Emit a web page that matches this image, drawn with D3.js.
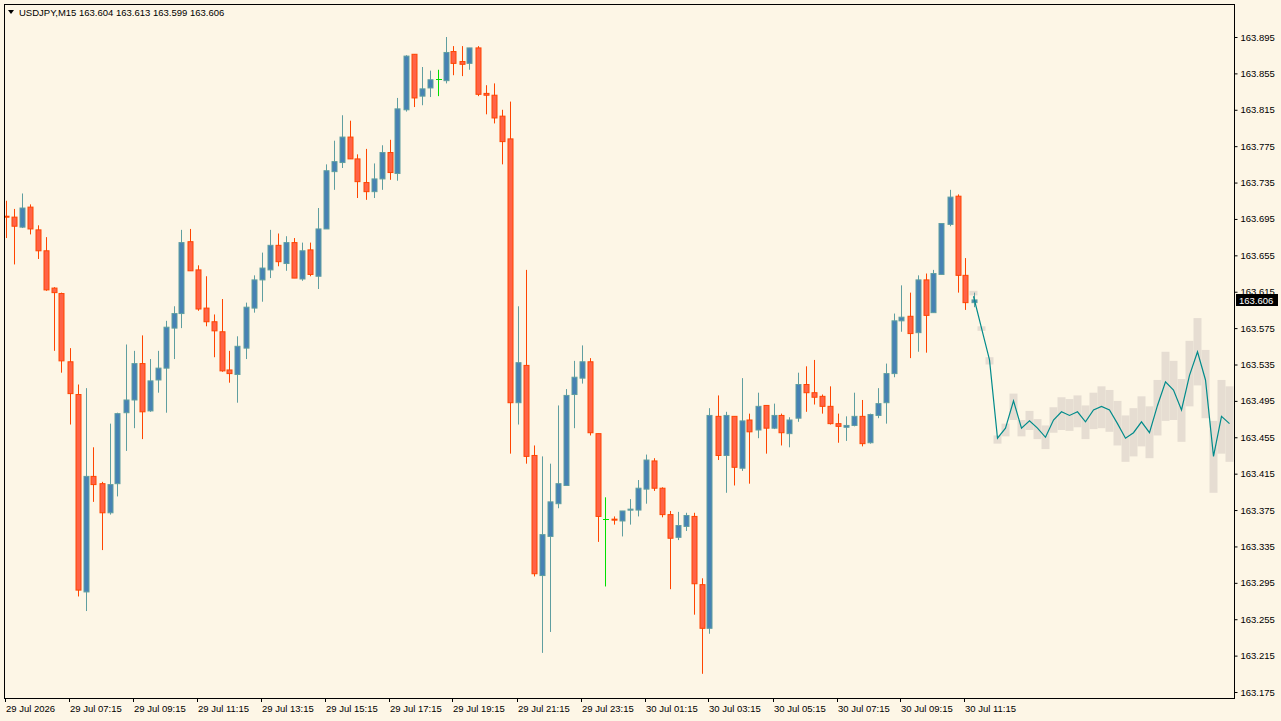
<!DOCTYPE html>
<html>
<head>
<meta charset="utf-8">
<script src="https://cdn.jsdelivr.net/npm/d3@7"></script>
<style>
  body { margin: 0; background: #fdf6e6; }
  text { font-family: "Liberation Sans", Arial, sans-serif; font-size: 10px; fill: #000; }
</style>
</head>
<body>
<svg id="chart" width="1281" height="721"></svg>
<script>
const opens = [163.698,163.697,163.686,163.708,163.683,163.660,163.619,163.613,163.538,163.502,
  163.285,163.412,163.404,163.372,163.404,163.482,163.496,163.536,163.484,163.518,
  163.531,163.575,163.591,163.670,163.639,163.597,163.582,163.571,163.529,163.524,
  163.553,163.597,163.628,163.639,163.666,163.646,163.669,163.629,163.661,163.632,
  163.684,163.747,163.757,163.785,163.761,163.735,163.725,163.739,163.768,163.745,
  163.815,163.876,163.830,163.839,163.849,163.847,163.879,163.868,163.866,163.883,
  163.833,163.831,163.808,163.783,163.493,163.534,163.435,163.303,163.346,163.382,
  163.402,163.502,163.520,163.538,163.459,163.365,163.365,163.363,163.375,163.375,
  163.398,163.429,163.399,163.370,163.345,163.357,163.368,163.293,163.245,163.478,
  163.435,163.478,163.421,163.474,163.463,163.490,163.465,163.479,163.459,163.476,
  163.513,163.504,163.500,163.489,163.470,163.466,163.468,163.478,163.449,163.479,
  163.493,163.525,163.583,163.588,163.570,163.628,163.592,163.634,163.689,163.720,
  163.633,163.603];
const highs = [163.715,163.706,163.723,163.711,163.688,163.675,163.620,163.614,163.553,163.513,
  163.509,163.444,163.406,163.470,163.482,163.557,163.550,163.567,163.541,163.550,
  163.583,163.599,163.683,163.684,163.644,163.632,163.590,163.607,163.550,163.566,
  163.603,163.633,163.658,163.683,163.679,163.676,163.674,163.669,163.669,163.707,
  163.755,163.781,163.809,163.803,163.766,163.772,163.756,163.776,163.782,163.828,
  163.875,163.876,163.862,163.858,163.859,163.895,163.885,163.885,163.883,163.885,
  163.842,163.844,163.815,163.824,163.599,163.639,163.446,163.434,163.426,163.490,
  163.508,163.539,163.556,163.542,163.459,163.389,163.368,163.374,163.387,163.408,
  163.436,163.432,163.400,163.374,163.373,163.372,163.372,163.300,163.487,163.501,
  163.483,163.478,163.520,163.481,163.504,163.490,163.492,163.481,163.477,163.526,
  163.533,163.540,163.502,163.511,163.481,163.478,163.504,163.496,163.481,163.509,
  163.536,163.591,163.622,163.614,163.633,163.635,163.639,163.690,163.727,163.722,
  163.652,163.614];
const lows = [163.674,163.645,163.685,163.678,163.651,163.616,163.550,163.526,163.469,163.280,
  163.264,163.384,163.331,163.370,163.390,163.440,163.465,163.453,163.483,163.504,
  163.482,163.541,163.575,163.638,163.594,163.577,163.543,163.527,163.515,163.493,
  163.541,163.592,163.604,163.630,163.643,163.638,163.630,163.627,163.632,163.618,
  163.684,163.727,163.751,163.761,163.718,163.716,163.718,163.727,163.738,163.737,
  163.813,163.818,163.820,163.829,163.830,163.844,163.853,163.852,163.859,163.830,
  163.810,163.800,163.755,163.437,163.469,163.426,163.302,163.218,163.241,163.377,
  163.402,163.465,163.514,163.457,163.340,163.291,163.359,163.346,163.359,163.368,
  163.382,163.396,163.367,163.288,163.342,163.352,163.260,163.195,163.239,163.430,
  163.394,163.402,163.418,163.404,163.454,163.437,163.464,163.446,163.444,163.472,
  163.483,163.491,163.481,163.469,163.449,163.451,163.467,163.445,163.448,163.476,
  163.470,163.521,163.571,163.542,163.549,163.548,163.592,163.634,163.687,163.614,
  163.595,163.598];
const closes = [163.697,163.687,163.707,163.684,163.660,163.617,163.614,163.539,163.503,163.287,
  163.412,163.403,163.372,163.403,163.481,163.496,163.536,163.483,163.517,163.531,
  163.576,163.591,163.669,163.638,163.596,163.582,163.572,163.528,163.525,163.555,
  163.598,163.628,163.641,163.666,163.648,163.669,163.630,163.660,163.634,163.684,
  163.748,163.758,163.785,163.761,163.736,163.725,163.739,163.768,163.746,163.816,
  163.874,163.828,163.838,163.848,163.849,163.878,163.866,163.865,163.883,163.832,
  163.831,163.806,163.780,163.493,163.537,163.434,163.305,163.348,163.384,163.404,
  163.501,163.521,163.538,163.460,163.368,163.365,163.364,163.374,163.376,163.399,
  163.430,163.399,163.370,163.344,163.358,163.369,163.294,163.245,163.479,163.435,
  163.479,163.422,163.473,163.461,163.489,163.465,163.479,163.460,163.474,163.513,
  163.504,163.499,163.489,163.470,163.467,163.468,163.478,163.448,163.480,163.492,
  163.525,163.583,163.587,163.569,163.628,163.589,163.635,163.690,163.719,163.633,
  163.603,163.606];

// forecast starts at the current bar (index 121)
const fcStart = 121;
const fcMid = [163.610,163.575,163.540,163.454,163.465,163.495,163.465,163.473,163.465,163.455,
  163.474,163.483,163.479,163.483,163.472,163.485,163.489,163.485,163.470,163.454,
  163.460,163.472,163.460,163.490,163.516,163.507,163.485,163.523,163.549,163.518,
  163.434,163.478,163.470];
const fcHigh = [163.616,163.577,163.543,163.457,163.470,163.503,163.474,163.484,163.475,163.468,
  163.488,163.499,163.497,163.501,163.490,163.504,163.511,163.507,163.495,163.479,
  163.487,163.500,163.489,163.518,163.549,163.539,163.519,163.561,163.586,163.551,
  163.473,163.518,163.511];
const fcLow = [163.611,163.572,163.535,163.448,163.456,163.474,163.456,163.463,163.453,163.442,
  163.460,163.463,163.462,163.466,163.453,163.464,163.465,163.461,163.446,163.428,
  163.434,163.445,163.432,163.457,163.473,163.474,163.450,163.489,163.512,163.476,
  163.394,163.437,163.428];

const yTicks = d3.range(0, 19).map(k => +(163.175 + k * 0.04).toFixed(3));
const timeLabels = ['29 Jul 2026','29 Jul 07:15','29 Jul 09:15','29 Jul 11:15','29 Jul 13:15',
  '29 Jul 15:15','29 Jul 17:15','29 Jul 19:15','29 Jul 21:15','29 Jul 23:15','30 Jul 01:15',
  '30 Jul 03:15','30 Jul 05:15','30 Jul 07:15','30 Jul 09:15','30 Jul 11:15'];
const header = 'USDJPY,M15  163.604 163.613 163.599 163.606';
const lastPrice = 163.606;

const svg = d3.select('#chart');
const plot = { left: 4, top: 4, right: 1234, bottom: 698 };

const x = d3.scaleLinear().domain([0, 153]).range([5.5, 1229.5]);
const y = d3.scaleLinear().domain([163.175, 163.895]).range([692, 37]);

svg.append('rect').attr('width', 1281).attr('height', 721).attr('fill', '#fdf6e6');
svg.append('defs').append('clipPath').attr('id', 'clip')
  .append('rect').attr('x', plot.left).attr('y', plot.top)
  .attr('width', plot.right - plot.left).attr('height', plot.bottom - plot.top);

const g = svg.append('g').attr('clip-path', 'url(#clip)');

// forecast range boxes + line
const fc = fcMid.map((m, k) => ({ i: fcStart + k, m, h: fcHigh[k], l: fcLow[k] }));
g.selectAll('.fcbox').data(fc).enter().append('rect')
  .attr('x', d => x(d.i) - 4).attr('width', 8)
  .attr('y', d => y(d.h)).attr('height', d => Math.max(2, y(d.l) - y(d.h)))
  .attr('fill', '#e6ddd2');

const bars = opens.map((o, i) => ({ i, o, h: highs[i], l: lows[i], c: closes[i] }));
const kind = d => d.c > d.o ? 'bull' : d.c < d.o ? 'bear' : 'doji';
const wickCol = { bull: '#5f9ea0', bear: '#ff4500', doji: '#00e000' };
const bodyFill = { bull: '#4682b4', bear: '#ff6347', doji: '#00e000' };

g.selectAll('.wick').data(bars).enter().append('line')
  .attr('x1', d => Math.round(x(d.i)) + 0.5).attr('x2', d => Math.round(x(d.i)) + 0.5)
  .attr('y1', d => y(d.h)).attr('y2', d => y(d.l))
  .attr('stroke', d => wickCol[kind(d)]).attr('stroke-width', 1);

g.selectAll('.body').data(bars.filter(d => kind(d) !== 'doji')).enter().append('rect')
  .attr('x', d => Math.round(x(d.i)) - 2).attr('width', 5)
  .attr('y', d => y(Math.max(d.o, d.c)))
  .attr('height', d => Math.max(1, Math.abs(y(d.o) - y(d.c))))
  .attr('fill', d => bodyFill[kind(d)])
  .attr('stroke', d => wickCol[kind(d)]).attr('stroke-width', 1);

g.selectAll('.doji').data(bars.filter(d => kind(d) === 'doji')).enter().append('line')
  .attr('x1', d => Math.round(x(d.i)) - 2).attr('x2', d => Math.round(x(d.i)) + 4)
  .attr('y1', d => Math.round(y(d.o)) + 0.5).attr('y2', d => Math.round(y(d.o)) + 0.5)
  .attr('stroke', '#00e000');

g.append('path').datum(fc)
  .attr('fill', 'none').attr('stroke', '#008b8b').attr('stroke-width', 1.2)
  .attr('d', d3.line().x(d => x(d.i)).y(d => y(d.m)));

// frame
svg.append('rect').attr('x', plot.left + 0.5).attr('y', plot.top + 0.5)
  .attr('width', plot.right - plot.left).attr('height', plot.bottom - plot.top)
  .attr('fill', 'none').attr('stroke', '#000');

// right price axis
const ya = svg.append('g').attr('transform', `translate(${plot.right + 0.5},0)`)
  .call(d3.axisRight(y).tickValues(yTicks).tickFormat(d3.format('.3f')).tickSize(3).tickPadding(3));
ya.select('.domain').remove();
ya.selectAll('text').style('font-size', '9.5px');

const ly = Math.round(y(lastPrice));
svg.append('rect').attr('x', plot.right + 2).attr('y', ly - 6).attr('width', 42).attr('height', 12).attr('fill', '#000');
svg.append('text').attr('x', plot.right + 5).attr('y', ly + 4)
  .style('fill', '#fff').style('font-size', '9.5px').text(d3.format('.3f')(lastPrice));

// bottom time axis
const xt = svg.append('g');
timeLabels.forEach((t, k) => {
  const px = k === 0 ? plot.left + 1 : Math.round(x(k * 8)) - 1;
  xt.append('line').attr('x1', px + 0.5).attr('x2', px + 0.5)
    .attr('y1', plot.bottom).attr('y2', plot.bottom + 4).attr('stroke', '#000');
  xt.append('text').attr('x', px + 1).attr('y', 712).style('font-size', '9.5px').text(t);
});

// header
svg.append('path').attr('d', 'M8,10 L14,10 L11,14 Z').attr('fill', '#000');
svg.append('text').attr('x', 19).attr('y', 16).style('font-size', '9.5px').text(header);
</script>
</body>
</html>
